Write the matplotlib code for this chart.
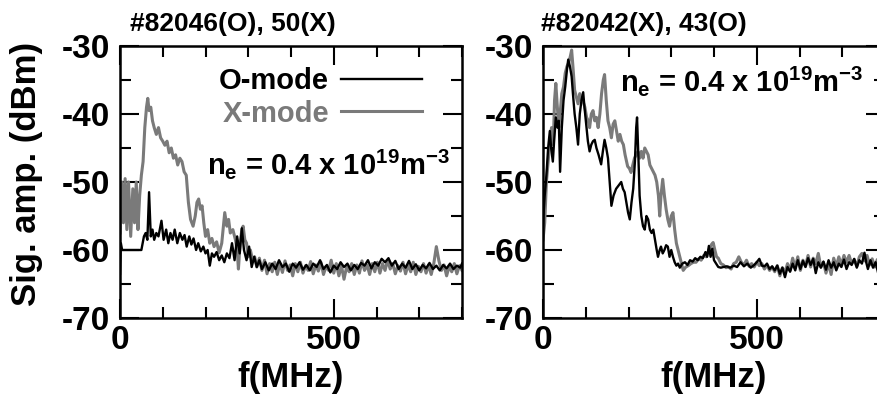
import matplotlib
matplotlib.use("Agg")
import matplotlib.pyplot as plt
from matplotlib.ticker import MultipleLocator

plt.rcParams['font.family'] = ['Liberation Sans', 'DejaVu Sans']
plt.rcParams['font.weight'] = 'bold'
plt.rcParams['axes.labelweight'] = 'bold'
plt.rcParams['axes.unicode_minus'] = False
plt.rcParams['mathtext.fontset'] = 'custom'
plt.rcParams['mathtext.rm'] = 'Liberation Sans:bold'
plt.rcParams['mathtext.it'] = 'Liberation Sans:bold'
plt.rcParams['mathtext.bf'] = 'Liberation Sans:bold'

# ---- data (f in MHz, signal in dBm) ----
# left panel: #82046 (O-mode), #82050 (X-mode)
left_o_f = [0, 2, 5, 50, 56, 60, 64, 68, 72, 76, 80, 85, 90, 97, 102, 108, 113, 118, 123, 128,
            134, 140, 146, 151, 156, 162, 167, 172, 178, 183, 189, 195, 200, 205, 210, 215, 220,
            226, 232, 238, 244, 250, 256, 262, 268, 274, 280, 285, 290, 296, 302, 308, 314, 320,
            326, 332, 340, 348, 356, 364, 372, 380, 388, 396, 404, 412, 420, 428, 436, 444, 452,
            460, 468, 476, 484, 492, 500, 508, 516, 524, 532, 540, 548, 556, 564, 572, 580, 588,
            596, 604, 612, 620, 628, 636, 644, 652, 660, 668, 676, 684, 692, 700, 708, 716, 724,
            732, 740, 748, 756, 764, 772, 780, 788, 796, 800]
left_o_db = [-63.5, -59, -60, -60, -58, -57.5, -58.5, -51.5, -58, -57, -58.5, -57.5, -58, -55.7,
             -58.5, -57, -59, -57.5, -58.5, -57, -59, -57.5, -58.5, -57.8, -59.5, -58, -59.2, -58.3,
             -60, -59, -60.2, -59.5, -60.5, -60, -62.3, -60.5, -61, -60.3, -61.5, -60.8, -61.8,
             -60.5, -61.2, -59, -61.5, -58, -60.5, -56.8, -60, -61.5, -59.5, -62.5, -61, -62.5,
             -61.5, -62.8, -61.8, -63, -62, -62.8, -61.5, -62.5, -62, -63.2, -62, -62.6, -61.8,
             -62.9, -62.2, -63, -62, -62.5, -61.5, -62.8, -62.2, -63.3, -62.3, -62.8, -61.8, -62.5,
             -62, -63, -62.2, -62.8, -61.9, -62.3, -61.5, -62.7, -61.8, -62.3, -61.3, -61.8, -61.2,
             -62.3, -61.6, -62.8, -62, -62.6, -61.6, -62.8, -62.1, -63, -62.2, -62.7, -61.9, -62.8,
             -62.3, -63, -62.2, -62.7, -62, -62.8, -62.3, -62.6, -62]

left_x_f = [0, 4, 8, 12, 16, 20, 25, 30, 34, 38, 42, 46, 50, 54, 58, 62, 65, 68, 72, 76, 80, 85,
            90, 95, 100, 105, 110, 115, 120, 125, 130, 135, 140, 145, 150, 155, 160, 165, 171, 176,
            180, 184, 188, 192, 196, 200, 205, 210, 215, 220, 226, 232, 238, 242, 245, 250, 254,
            258, 264, 270, 274, 277, 281, 285, 288, 292, 296, 300, 305, 310, 315, 320, 326, 332,
            338, 344, 350, 356, 362, 368, 374, 380, 386, 392, 398, 404, 410, 416, 422, 428, 434,
            440, 446, 452, 458, 464, 470, 476, 482, 488, 494, 500, 506, 512, 518, 524, 530, 536,
            542, 548, 554, 560, 566, 572, 578, 584, 590, 596, 602, 608, 614, 620, 626, 632, 638,
            644, 650, 656, 662, 668, 674, 680, 686, 692, 698, 704, 710, 716, 722, 728, 734, 740,
            746, 752, 758, 764, 770, 776, 782, 788, 794, 800]
left_x_db = [-57.5, -50, -56, -49.5, -57, -50, -58, -51, -56, -50, -57, -52, -49, -47, -42, -39,
             -37.7, -39.5, -39, -41, -42, -43, -42, -43.5, -44, -44.6, -44, -45.7, -45, -46.5, -46,
             -47.5, -46.5, -47, -48.5, -49, -53, -55.5, -56.5, -55, -53, -52.5, -54, -53.5, -56,
             -58, -57, -59, -58.3, -59.5, -58.8, -60.4, -59, -56.5, -54.5, -56.5, -55.5, -57.5,
             -57, -58.5, -60, -62.8, -59, -57, -56.5, -58.5, -59, -61, -60, -61.5, -61, -62.5,
             -61.2, -63, -61.5, -63.5, -62, -63.2, -61.8, -63.6, -62, -63.3, -61.6, -63, -62.2,
             -63.8, -62, -63.2, -61.8, -63.4, -62.3, -63, -61.7, -63.5, -62.2, -63.1, -61.8, -63.6,
             -62.4, -63, -61.5, -63.4, -62, -63.8, -62.3, -64.3, -62.5, -63.2, -62, -63.6, -62.2,
             -63.4, -61.6, -63, -62.2, -63.6, -62, -63.2, -61.8, -63.4, -62, -63, -61.5, -62.8,
             -62, -63.5, -62.3, -63.1, -61.8, -63.5, -62.2, -63.2, -61.8, -63.6, -62.4, -63.2, -62,
             -63.4, -62.2, -63.6, -62, -59.5, -61.6, -63, -62.2, -63.8, -62.4, -63.2, -62, -63.5,
             -62.3, -63]

# right panel: #82042 (X-mode), #82043 (O-mode)
right_o_f = [0, 4, 8, 12, 16, 19, 23, 26, 30, 34, 37, 40, 44, 48, 52, 56, 59, 63, 67, 70, 74, 78,
             82, 86, 90, 94, 97, 101, 105, 109, 113, 117, 121, 125, 130, 136, 140, 144, 148, 152,
             156, 160, 165, 171, 177, 183, 187, 191, 195, 199, 203, 207, 211, 215, 218, 220, 223,
             226, 230, 234, 238, 242, 246, 250, 254, 258, 262, 266, 269, 273, 276, 280, 284, 288,
             292, 296, 300, 304, 308, 312, 316, 320, 326, 332, 338, 344, 350, 356, 362, 368, 374,
             380, 384, 388, 392, 396, 400, 405, 410, 416, 422, 430, 438, 446, 454, 462, 470, 478,
             486, 494, 500, 506, 512, 518, 524, 530, 536, 542, 548, 554, 560, 566, 572, 578, 584,
             590, 596, 602, 608, 614, 620, 626, 632, 638, 644, 650, 656, 662, 668, 674, 680, 686,
             692, 698, 704, 710, 716, 722, 728, 734, 740, 746, 752, 756, 760, 766, 772, 778, 784,
             790, 796, 800]
right_o_db = [-56, -52, -49, -45, -42.5, -45, -47, -44, -40.5, -42, -41, -48.5, -42, -38, -36,
              -33.5, -32, -33, -34.5, -37, -40, -42, -44.5, -40, -38, -36.8, -39, -41.5, -44, -45.5,
              -44.5, -44, -43.8, -45, -46, -47.4, -45.5, -43.8, -45, -46.5, -50, -53.5, -52, -51,
              -50.5, -50, -51, -51.5, -53, -54.5, -55.5, -53, -51, -47, -42, -40.5, -46, -52, -55,
              -56.5, -57, -55, -55.5, -57, -57.5, -57, -58.5, -60, -61, -60, -59.5, -60.5, -60,
              -59.3, -59.5, -61, -60, -61, -61.8, -62.3, -62, -62.6, -62, -61.8, -62.2, -61.5,
              -61.7, -61.2, -61.5, -61, -61.2, -60.3, -61, -59.4, -61, -59.8, -61.5, -62, -62.5,
              -62.6, -62.5, -62.4, -62.6, -62.3, -62.5, -61.8, -62.4, -62, -62.6, -62.2, -61.8,
              -61.3, -62.3, -62.4, -62, -62.8, -62.4, -63, -62.3, -63.5, -62.6, -64, -62.5, -63.2,
              -62, -63, -61.5, -62.8, -61.6, -62.5, -61.2, -62.2, -61.3, -63.4, -61.8, -62.6, -61.7,
              -62.9, -61.5, -62.6, -61.8, -63, -62, -62.5, -61.4, -62.8, -61.8, -62.2, -61.3, -62.6,
              -61.5, -62, -60.4, -61.8, -62.8, -61.5, -62.6, -61.8, -63.4, -62, -62.5, -62]

right_x_f = [0, 4, 8, 12, 16, 20, 24, 27, 30, 33, 37, 40, 44, 48, 52, 56, 60, 64, 67, 70, 74, 78,
             82, 86, 90, 94, 98, 102, 106, 109, 113, 117, 121, 125, 129, 133, 137, 141, 144, 148,
             152, 156, 160, 164, 168, 172, 176, 180, 184, 188, 192, 198, 202, 206, 210, 214, 218,
             222, 226, 230, 234, 238, 242, 246, 250, 254, 258, 262, 266, 270, 273, 276, 280, 284,
             288, 292, 296, 300, 304, 308, 312, 316, 320, 324, 328, 334, 340, 346, 352, 358, 364,
             370, 376, 382, 388, 394, 398, 402, 406, 410, 416, 422, 428, 434, 440, 446, 452, 458,
             464, 470, 476, 482, 488, 494, 500, 506, 512, 518, 524, 530, 536, 542, 548, 554, 560,
             566, 572, 578, 584, 590, 596, 602, 608, 614, 620, 626, 632, 638, 644, 650, 656, 662,
             668, 674, 680, 686, 692, 698, 704, 710, 716, 722, 728, 734, 740, 746, 752, 758, 764,
             770, 776, 782, 788, 794, 800]
right_x_db = [-58.5, -56, -50, -47, -44, -42, -44.5, -38, -35.5, -38.5, -42, -40, -37, -36, -34,
              -33, -32.5, -31.5, -30.6, -33, -36.5, -37.5, -38.5, -37, -38, -38.2, -39, -40.5, -41,
              -42, -40, -39.5, -41, -40.5, -42, -40, -37, -35, -34.2, -38, -41, -42, -43.5, -41.5,
              -41, -42.5, -44, -43, -44, -44.5, -46, -47.7, -48, -48.6, -47.5, -46.5, -46, -45.5,
              -46.5, -45.5, -46.5, -45, -45.5, -46, -47.5, -48, -48.5, -49, -50, -52, -55, -52,
              -49.6, -52, -54, -55.5, -56.5, -55, -54.5, -57, -59, -60, -61, -62, -63, -62.5, -62.3,
              -62, -61.8, -61.8, -61.3, -61.5, -60.8, -61, -60, -59.2, -58.9, -60, -61, -61.2, -62,
              -62.2, -62.6, -62.5, -62.8, -62, -61.8, -61, -61.8, -62.2, -61.5, -62.4, -62, -62.5,
              -61.8, -62.3, -62, -62.8, -62.2, -63, -62.5, -63.2, -62.3, -63.8, -62.6, -63.3, -62,
              -63, -61.2, -62.6, -61, -63, -61.5, -62.4, -60.8, -62.5, -61.2, -62, -60.5, -62.5,
              -61.8, -63.4, -62, -63.6, -61.2, -62.4, -61, -62.2, -60.8, -61.8, -60.8, -62, -61.4,
              -62.4, -61, -60.5, -61.6, -60.8, -62.2, -61.3, -62.5, -61.4, -62.8, -61.6, -62.5]

titles = ["#82046(O), 50(X)", "#82042(X), 43(O)"]
density_label = r"$n_e$ = 0.4 x 10$^{19}$m$^{-3}$"
gray = "#7a7a7a"

fig = plt.figure(figsize=(8.77, 4.03), dpi=100)
W, H = 877.0, 403.0
ax1 = fig.add_axes([120 / W, 1 - 318 / H, 342 / W, 272 / H])
ax2 = fig.add_axes([543 / W, 1 - 318 / H, 342 / W, 272 / H])

ax1.plot(left_x_f, left_x_db, color=gray, lw=2.2, label="X-mode", zorder=2)
ax1.plot(left_o_f, left_o_db, color="black", lw=1.7, label="O-mode", zorder=3)
ax2.plot(right_x_f, right_x_db, color=gray, lw=2.2, zorder=2)
ax2.plot(right_o_f, right_o_db, color="black", lw=1.7, zorder=3)

for ax in (ax1, ax2):
    ax.set_xlim(0, 800)
    ax.set_ylim(-70, -30)
    ax.xaxis.set_major_locator(MultipleLocator(500))
    ax.xaxis.set_minor_locator(MultipleLocator(100))
    ax.yaxis.set_major_locator(MultipleLocator(10))
    ax.yaxis.set_minor_locator(MultipleLocator(5))
    ax.tick_params(which="both", direction="in", top=True, right=True, width=1.5,
                   labelsize=24)
    ax.tick_params(which="major", length=14)
    ax.tick_params(which="minor", length=8)
    ax.tick_params(axis="y", pad=7)
    ax.tick_params(axis="x", pad=5)
    for sp in ax.spines.values():
        sp.set_linewidth(1.8)
    ax.set_xlabel("f(MHz)", fontsize=25, fontweight="bold", labelpad=4)

# legend on the left panel, text first then line
h, l = ax1.get_legend_handles_labels()
leg = ax1.legend(h[::-1], l[::-1], loc="upper left", bbox_to_anchor=(0.255, 0.965),
                 frameon=False, markerfirst=False, fontsize=21, handlelength=2.8,
                 handletextpad=0.4, labelspacing=0.15, borderaxespad=0)
leg.get_texts()[1].set_color(gray)

ax1.text(207 / W, 1 - 174 / H, density_label, transform=fig.transFigure, fontsize=21,
         va="baseline", ha="left")
ax2.text(620 / W, 1 - 91 / H, density_label, transform=fig.transFigure, fontsize=21,
         va="baseline", ha="left")

fig.text(130 / W, 1 - 31 / H, titles[0], fontsize=19, va="baseline", ha="left")
fig.text(541 / W, 1 - 31 / H, titles[1], fontsize=19, va="baseline", ha="left")
fig.text(27 / W, 1 - 174 / H, "Sig. amp. (dBm)", fontsize=25, rotation=90,
         va="center", ha="center")

fig.savefig("out.png", dpi=100)
